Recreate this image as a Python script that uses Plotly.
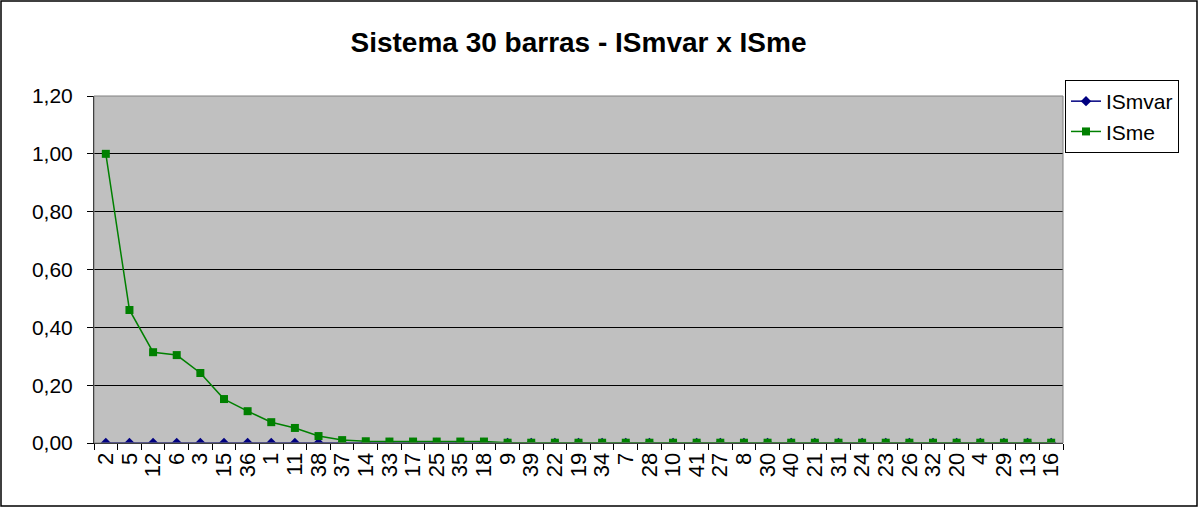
import plotly.graph_objects as go

categories = ["2", "5", "12", "6", "3", "15", "36", "1", "11", "38", "37", "14", "33", "17",
              "25", "35", "18", "9", "39", "22", "19", "34", "7", "28", "10", "41", "27", "8",
              "30", "40", "21", "31", "24", "23", "26", "32", "20", "4", "29", "13", "16"]

ismvar = [0.0] * 41

isme = [1.00, 0.46, 0.314, 0.304, 0.242, 0.152, 0.110, 0.072, 0.052, 0.024, 0.010, 0.006,
        0.005, 0.005, 0.005, 0.005, 0.005, 0.001, 0.001, 0.001, 0.001, 0.001, 0.001, 0.001,
        0.001, 0.001, 0.001, 0.001, 0.001, 0.001, 0.001, 0.001, 0.001, 0.001, 0.001, 0.001,
        0.001, 0.001, 0.001, 0.001, 0.001]

fig = go.Figure()
fig.add_trace(go.Scatter(x=categories, y=ismvar, name="ISmvar", mode="lines+markers",
                         line=dict(color="#000080", width=1.5),
                         marker=dict(symbol="diamond", size=8, color="#000080")))
fig.add_trace(go.Scatter(x=categories, y=isme, name="ISme", mode="lines+markers",
                         line=dict(color="#008000", width=1.5),
                         marker=dict(symbol="square", size=8, color="#008000")))

L, R, T, B = 94, 136, 96, 65
W, H = 1199, 508
pw, ph = W - L - R, H - T - B

fig.update_layout(
    width=W, height=H,
    margin=dict(l=L, r=R, t=T, b=B),
    paper_bgcolor="white", plot_bgcolor="#C0C0C0",
    separators=",.",
    font=dict(family="Liberation Sans, Arial", size=21, color="black"),
    title=dict(text="<b>Sistema 30 barras - ISmvar x ISme</b>", x=0.5, xref="paper",
               xanchor="center", y=1 - 42 / H, yanchor="middle",
               font=dict(size=28, color="black")),
    showlegend=True,
    legend=dict(x=(1065 - L) / pw, y=(H - B - 80) / ph, xanchor="left", yanchor="top",
                bordercolor="black", borderwidth=1, bgcolor="white",
                font=dict(size=21), tracegroupgap=0, itemwidth=30),
    xaxis=dict(type="category", range=[-0.5, 40.5], tickangle=-90,
               tickmode="linear", tick0=0, dtick=1,
               tickson="boundaries", ticks="outside", ticklen=6, tickcolor="black",
               showline=True, linecolor="black", linewidth=1, showgrid=False,
               tickfont=dict(size=22), fixedrange=True),
    yaxis=dict(range=[0, 1.2], dtick=0.2, tickformat=".2f", ticks="outside", ticklen=6,
               tickcolor="black", showline=True, linecolor="black", linewidth=1,
               showgrid=True, gridcolor="black", gridwidth=1, zeroline=False,
               ticklabelstandoff=10, tickfont=dict(size=21)),
    shapes=[
        dict(type="rect", xref="paper", yref="paper", x0=0, x1=1, y0=0, y1=1,
             line=dict(color="#808080", width=1)),
        dict(type="rect", xref="paper", yref="paper",
             x0=(1 - L) / pw, x1=(W - 2 - L) / pw,
             y0=(H - B - (H - 2)) / ph, y1=(H - B - 1) / ph,
             line=dict(color="black", width=1.5)),
    ],
)

fig.write_html("out.html", config={"displayModeBar": False},
               post_script="document.body.style.margin='0';document.body.style.overflow='hidden';")
